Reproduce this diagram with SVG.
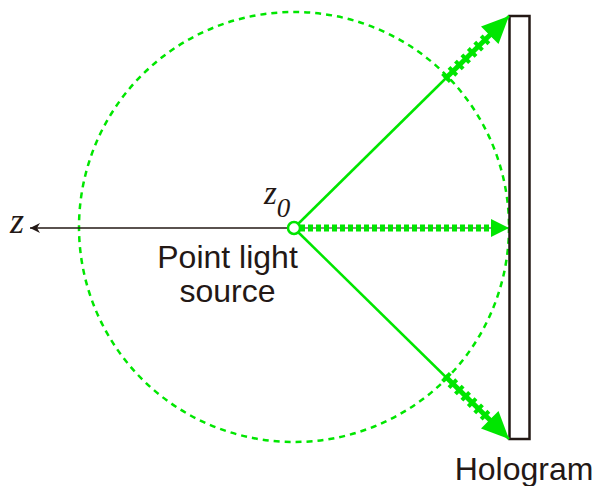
<svg xmlns="http://www.w3.org/2000/svg" width="595" height="486" viewBox="0 0 595 486">
<style>
.g{stroke:#00e600;fill:none}
.txt{font-family:"Liberation Sans",Arial,sans-serif;font-size:32px;fill:#231815}
.it{font-family:"Liberation Serif","Times New Roman",serif;font-style:italic;fill:#231815}
</style>
<defs>
<marker id="ka" viewBox="0 0 10 10" refX="10" refY="5" markerWidth="10" markerHeight="10" markerUnits="userSpaceOnUse" orient="auto"><path d="M0,0 L10,5 L0,10 L3,5 Z" fill="#231815"/></marker>
</defs>
<rect width="595" height="486" fill="#fff"/>
<g id="sphere"><circle cx="294" cy="227" r="215" class="g" stroke-width="2.5" stroke-dasharray="6 5"/></g>
<g id="hologram"><rect x="509.5" y="16" width="20" height="423" fill="#fff" stroke="#231815" stroke-width="2.5"/></g>
<g id="connectors">
<line x1="288" y1="228" x2="30" y2="228" stroke="#231815" stroke-width="1.5" marker-end="url(#ka)"/>
<line x1="300" y1="228" x2="509" y2="228" stroke="#231815" stroke-width="1.2"/>
<line x1="300" y1="228" x2="491" y2="228" class="g" stroke-width="7" stroke-dasharray="5 3"/>
<path d="M491,219 L509,228 L491,237 Z" fill="#00e600"/>
<line x1="298" y1="224" x2="509" y2="16" class="g" stroke-width="2.5"/>
<line x1="445" y1="79" x2="492" y2="33" class="g" stroke-width="5"/>
<line x1="445" y1="79" x2="492" y2="33" class="g" stroke-width="11" stroke-dasharray="4 5"/>
<path d="M509,16 L498.5,44 L481,26.5 Z" fill="#00e600"/>
<line x1="298" y1="232" x2="509" y2="439" class="g" stroke-width="2.5"/>
<line x1="445" y1="376" x2="492" y2="422" class="g" stroke-width="5"/>
<line x1="445" y1="376" x2="492" y2="422" class="g" stroke-width="11" stroke-dasharray="4 5"/>
<path d="M509,439 L481,428.5 L498.5,411 Z" fill="#00e600"/>
</g>
<g id="source"><circle cx="294" cy="228" r="6" fill="#fff" stroke="#00e600" stroke-width="2.5"/></g>
<text class="it" x="10" y="233" font-size="36">z</text>
<text class="it" x="264" y="204" font-size="33">z<tspan font-size="27" dy="13">0</tspan></text>
<text class="txt" x="227.5" y="268" text-anchor="middle">Point light</text>
<text class="txt" x="227.5" y="302" text-anchor="middle">source</text>
<text class="txt" x="524" y="480" text-anchor="middle">Hologram</text>
</svg>
